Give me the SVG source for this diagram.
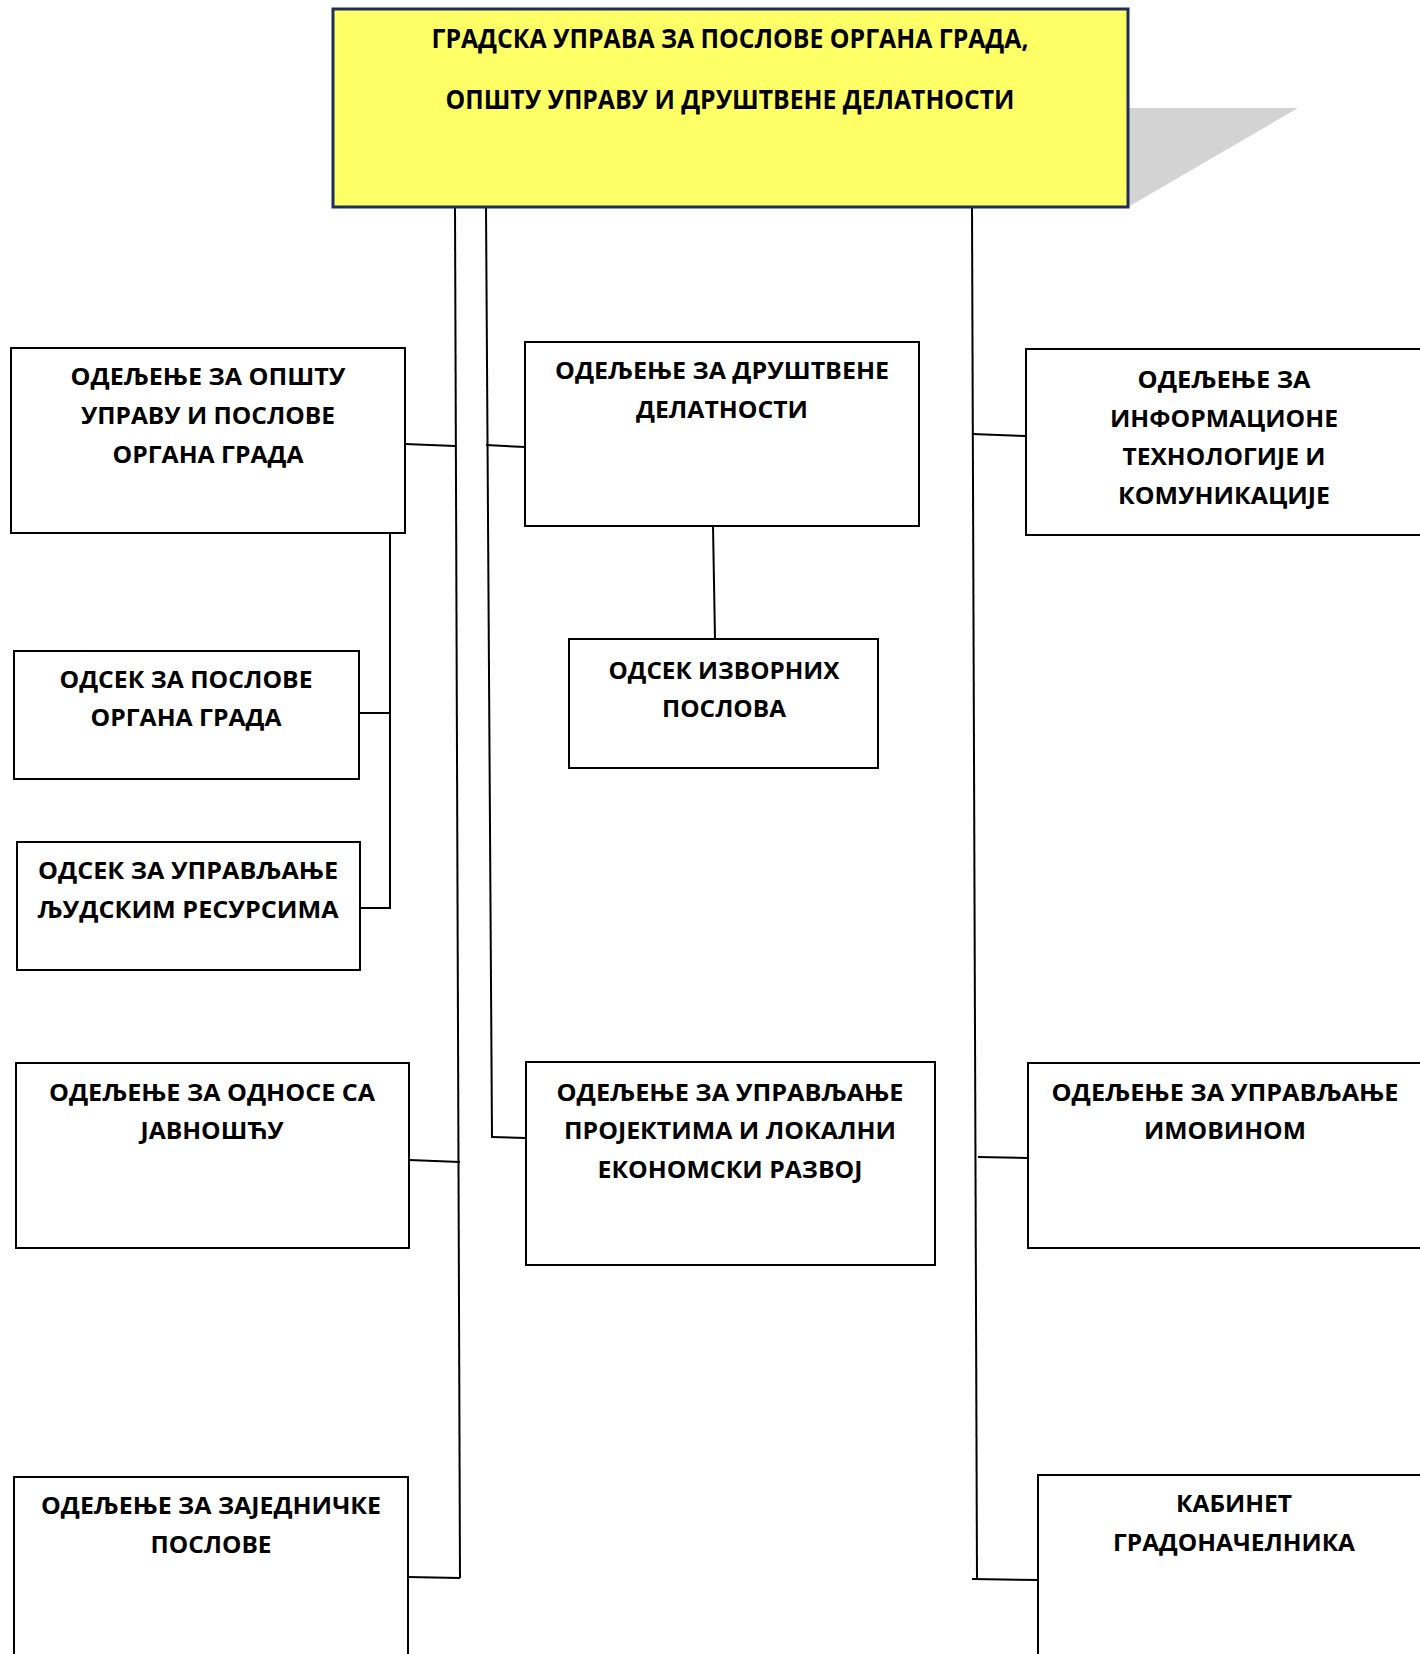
<svg xmlns="http://www.w3.org/2000/svg" width="1420" height="1654" viewBox="0 0 1420 1654">
<style>
.box{fill:#ffffff;stroke:#000000;stroke-width:2}
.top{fill:#ffff66;stroke:#1f2d5c;stroke-width:3}
.t{font-family:"Open Sans","Liberation Sans",sans-serif;font-weight:700;font-size:24px;fill:#000000;text-anchor:middle}
.tt{font-family:"Open Sans","Liberation Sans",sans-serif;font-weight:700;font-size:26px;fill:#000000;text-anchor:middle}
.c{stroke:#000000;stroke-width:2;fill:none}
</style>
<rect width="1420" height="1654" fill="#ffffff"/>
<g id="connectors">
<line class="c" x1="455" y1="207" x2="460" y2="1578"/>
<line class="c" x1="486" y1="207" x2="492" y2="1138"/>
<line class="c" x1="972" y1="207" x2="977" y2="1580"/>
<line class="c" x1="405" y1="444" x2="455" y2="446"/>
<line class="c" x1="486" y1="445" x2="525" y2="447"/>
<line class="c" x1="972" y1="434" x2="1026" y2="436"/>
<polyline class="c" points="390,533 390,908 360,908"/>
<line class="c" x1="359" y1="713" x2="390" y2="713"/>
<line class="c" x1="713" y1="526" x2="715" y2="639"/>
<line class="c" x1="409" y1="1160" x2="460" y2="1162"/>
<line class="c" x1="492" y1="1137" x2="526" y2="1138"/>
<line class="c" x1="978" y1="1157" x2="1028" y2="1158"/>
<line class="c" x1="408" y1="1577" x2="460" y2="1578"/>
<line class="c" x1="972" y1="1579" x2="1038" y2="1580"/>
</g>
<g id="root">
<polygon points="1128,108 1298,108 1128,207" fill="#d3d3d3"/>
<rect class="top" x="333" y="9" width="795" height="198"/>
<text class="tt" x="730" y="48" textLength="597" lengthAdjust="spacingAndGlyphs">ГРАДСКА УПРАВА ЗА ПОСЛОВЕ ОРГАНА ГРАДА,</text>
<text class="tt" x="730" y="109" textLength="569" lengthAdjust="spacingAndGlyphs">ОПШТУ УПРАВУ И ДРУШТВЕНЕ ДЕЛАТНОСТИ</text>
</g>
<g id="n1">
<rect class="box" x="11" y="348" width="394" height="185"/>
<text class="t" x="208" y="385" textLength="275" lengthAdjust="spacingAndGlyphs">ОДЕЉЕЊЕ ЗА ОПШТУ</text>
<text class="t" x="208" y="424" textLength="254" lengthAdjust="spacingAndGlyphs">УПРАВУ И ПОСЛОВЕ</text>
<text class="t" x="208" y="463" textLength="191" lengthAdjust="spacingAndGlyphs">ОРГАНА ГРАДА</text>
</g>
<g id="n2">
<rect class="box" x="525" y="342" width="394" height="184"/>
<text class="t" x="722" y="379" textLength="334" lengthAdjust="spacingAndGlyphs">ОДЕЉЕЊЕ ЗА ДРУШТВЕНЕ</text>
<text class="t" x="722" y="418" textLength="172" lengthAdjust="spacingAndGlyphs">ДЕЛАТНОСТИ</text>
</g>
<g id="n3">
<rect class="box" x="1026" y="349" width="400" height="186"/>
<text class="t" x="1224" y="388" textLength="173" lengthAdjust="spacingAndGlyphs">ОДЕЉЕЊЕ ЗА</text>
<text class="t" x="1224" y="427" textLength="228" lengthAdjust="spacingAndGlyphs">ИНФОРМАЦИОНЕ</text>
<text class="t" x="1224" y="465" textLength="203" lengthAdjust="spacingAndGlyphs">ТЕХНОЛОГИЈЕ И</text>
<text class="t" x="1224" y="504" textLength="212" lengthAdjust="spacingAndGlyphs">КОМУНИКАЦИЈЕ</text>
</g>
<g id="n4">
<rect class="box" x="14" y="651" width="345" height="128"/>
<text class="t" x="186" y="688" textLength="253" lengthAdjust="spacingAndGlyphs">ОДСЕК ЗА ПОСЛОВЕ</text>
<text class="t" x="186" y="726" textLength="191" lengthAdjust="spacingAndGlyphs">ОРГАНА ГРАДА</text>
</g>
<g id="n5">
<rect class="box" x="569" y="639" width="309" height="129"/>
<text class="t" x="724" y="679" textLength="231" lengthAdjust="spacingAndGlyphs">ОДСЕК ИЗВОРНИХ</text>
<text class="t" x="724" y="717" textLength="124" lengthAdjust="spacingAndGlyphs">ПОСЛОВА</text>
</g>
<g id="n6">
<rect class="box" x="17" y="842" width="343" height="128"/>
<text class="t" x="188" y="879" textLength="300" lengthAdjust="spacingAndGlyphs">ОДСЕК ЗА УПРАВЉАЊЕ</text>
<text class="t" x="188" y="918" textLength="301" lengthAdjust="spacingAndGlyphs">ЉУДСКИМ РЕСУРСИМА</text>
</g>
<g id="n7">
<rect class="box" x="16" y="1063" width="393" height="185"/>
<text class="t" x="212" y="1101" textLength="326" lengthAdjust="spacingAndGlyphs">ОДЕЉЕЊЕ ЗА ОДНОСЕ СА</text>
<text class="t" x="212" y="1139" textLength="143" lengthAdjust="spacingAndGlyphs">ЈАВНОШЋУ</text>
</g>
<g id="n8">
<rect class="box" x="526" y="1062" width="409" height="203"/>
<text class="t" x="730" y="1101" textLength="347" lengthAdjust="spacingAndGlyphs">ОДЕЉЕЊЕ ЗА УПРАВЉАЊЕ</text>
<text class="t" x="730" y="1139" textLength="332" lengthAdjust="spacingAndGlyphs">ПРОЈЕКТИМА И ЛОКАЛНИ</text>
<text class="t" x="730" y="1178" textLength="265" lengthAdjust="spacingAndGlyphs">ЕКОНОМСКИ РАЗВОЈ</text>
</g>
<g id="n9">
<rect class="box" x="1028" y="1063" width="400" height="185"/>
<text class="t" x="1225" y="1101" textLength="347" lengthAdjust="spacingAndGlyphs">ОДЕЉЕЊЕ ЗА УПРАВЉАЊЕ</text>
<text class="t" x="1225" y="1139" textLength="162" lengthAdjust="spacingAndGlyphs">ИМОВИНОМ</text>
</g>
<g id="n10">
<rect class="box" x="14" y="1477" width="394" height="190"/>
<text class="t" x="211" y="1514" textLength="340" lengthAdjust="spacingAndGlyphs">ОДЕЉЕЊЕ ЗА ЗАЈЕДНИЧКЕ</text>
<text class="t" x="211" y="1553" textLength="121" lengthAdjust="spacingAndGlyphs">ПОСЛОВЕ</text>
</g>
<g id="n11">
<rect class="box" x="1038" y="1475" width="390" height="192"/>
<text class="t" x="1234" y="1512" textLength="116" lengthAdjust="spacingAndGlyphs">КАБИНЕТ</text>
<text class="t" x="1234" y="1551" textLength="242" lengthAdjust="spacingAndGlyphs">ГРАДОНАЧЕЛНИКА</text>
</g>
</svg>
